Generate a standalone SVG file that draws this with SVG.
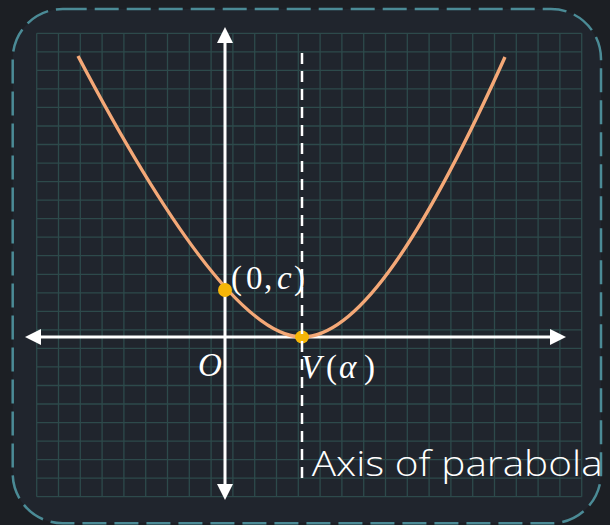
<svg xmlns="http://www.w3.org/2000/svg" width="610" height="525" viewBox="0 0 610 525">
  <style>
    .grid { stroke: #2d4a4b; stroke-width: 1.3; fill: none; }
    .axis { stroke: #ffffff; stroke-width: 3; fill: none; }
    .curve { stroke: #f4a877; stroke-width: 3.4; fill: none; stroke-linecap: butt; }
    .sym { stroke: #ffffff; stroke-width: 2.5; stroke-dasharray: 11 7; fill: none; }
    .dot { fill: #f6b608; }
    .math { font-family: "Liberation Serif", "DejaVu Serif", serif; font-size: 33px; fill: #ffffff; }
    .it { font-style: italic; }
    .lab { font-family: "Open Sans", "Liberation Sans", sans-serif; font-weight: 300; font-size: 35px; fill: #ffffff; }
  </style>
  <defs>
    <marker id="arr" viewBox="0 0 16 16" refX="8" refY="8" markerWidth="16" markerHeight="16" markerUnits="userSpaceOnUse" orient="auto-start-reverse">
      <path d="M0,0 L16,8 L0,16 z" fill="#ffffff"/>
    </marker>
  </defs>

  <rect x="0" y="0" width="610" height="525" fill="#1c1f24"/>
  <g id="frame">
    <rect x="12.7" y="9" width="588.3" height="514.3" rx="50" ry="50" fill="#20252d" stroke="#4b8b96" stroke-width="2.5" stroke-dasharray="24 8"/>
  </g>

  <g id="grid">
    <path class="grid" d="M36.7,33.3V496.7M58.5,33.3V496.7M80.3,33.3V496.7M102.1,33.3V496.7M123.9,33.3V496.7M145.7,33.3V496.7M167.5,33.3V496.7M189.3,33.3V496.7M211.1,33.3V496.7M232.9,33.3V496.7M254.7,33.3V496.7M276.5,33.3V496.7M298.3,33.3V496.7M320.1,33.3V496.7M341.9,33.3V496.7M363.7,33.3V496.7M385.5,33.3V496.7M407.3,33.3V496.7M429.1,33.3V496.7M450.9,33.3V496.7M472.7,33.3V496.7M494.5,33.3V496.7M516.3,33.3V496.7M538.1,33.3V496.7M559.9,33.3V496.7M581.7,33.3V496.7
    M36.7,33.3H581.7M36.7,51.8H581.7M36.7,70.4H581.7M36.7,88.9H581.7M36.7,107.4H581.7M36.7,126H581.7M36.7,144.5H581.7M36.7,163.1H581.7M36.7,181.6H581.7M36.7,200.1H581.7M36.7,218.7H581.7M36.7,237.2H581.7M36.7,255.7H581.7M36.7,274.3H581.7M36.7,292.8H581.7M36.7,311.3H581.7M36.7,329.9H581.7M36.7,348.4H581.7M36.7,366.9H581.7M36.7,385.5H581.7M36.7,404H581.7M36.7,422.6H581.7M36.7,441.1H581.7M36.7,459.6H581.7M36.7,478.2H581.7M36.7,496.7H581.7"/>
  </g>

  <g id="connectors">
    <line id="x-axis" class="axis" x1="33" y1="337" x2="558" y2="337" marker-start="url(#arr)" marker-end="url(#arr)"/>
    <line id="y-axis" class="axis" x1="225" y1="35" x2="225" y2="492" marker-start="url(#arr)" marker-end="url(#arr)"/>
  </g>

  <g id="parabola">
    <path class="curve" d="M78,56 C178,246 252,337 302,337 C352,337 415,257 505,57"/>
  </g>

  <g id="point-c">
    <circle class="dot" cx="225" cy="290" r="7"/>
  </g>
  <g id="vertex">
    <ellipse class="dot" cx="302" cy="337" rx="7" ry="6.5"/>
  </g>

  <g id="axis-of-symmetry">
    <line class="sym" x1="302" y1="53" x2="302" y2="485"/>
  </g>

  <g id="labels">
    <text class="math" y="289"><tspan x="231">(</tspan><tspan x="246">0</tspan><tspan x="264">,</tspan><tspan x="277" class="it">c</tspan><tspan x="294">)</tspan></text>
    <text class="math it" x="198" y="376">O</text>
    <text class="math" y="378"><tspan x="301" class="it">V</tspan><tspan x="326">(</tspan><tspan x="339" class="it">α</tspan><tspan x="364">)</tspan></text>
    <text class="lab" x="311.7" y="476" textLength="291" lengthAdjust="spacingAndGlyphs">Axis of parabola</text>
  </g>
</svg>
